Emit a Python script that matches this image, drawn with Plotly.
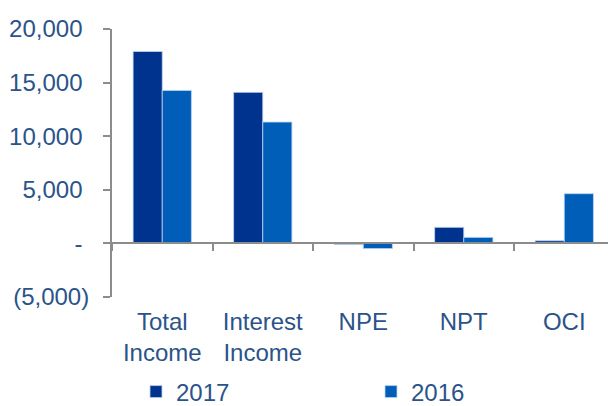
import plotly.graph_objects as go

categories = ["Total<br>Income", "Interest<br>Income", "NPE", "NPT", "OCI"]
values_2017 = [17900, 14090, -100, 1500, 250]
values_2016 = [14270, 11320, -480, 560, 4640]

y_tickvals = [-5000, 0, 5000, 10000, 15000, 20000]
y_ticktext = ["(5,000)", "-\u00a0", "5,000\u00a0", "10,000\u00a0", "15,000\u00a0", "20,000\u00a0"]

text_color = "#2B5389"
axis_color = "#8C8C8C"
font_family = "Liberation Sans, Arial, sans-serif"

# plot area spans the full paper height below the top margin;
# the value axis occupies the upper part, leaving room for labels and legend
y_bottom = 109 / 377
zero_pos = y_bottom + (0 - (-5000)) / 25000 * (1 - y_bottom)

fig = go.Figure()
fig.add_trace(go.Bar(
    name="2017", x=categories, y=values_2017,
    marker=dict(color="#00338D", line=dict(color="rgba(190,210,240,0.8)", width=1)),
))
fig.add_trace(go.Bar(
    name="2016", x=categories, y=values_2016,
    marker=dict(color="#005EB8", line=dict(color="rgba(190,210,240,0.8)", width=1)),
))

fig.update_layout(
    width=608, height=406,
    margin=dict(l=112, r=0, t=29, b=0, autoexpand=False),
    paper_bgcolor="white", plot_bgcolor="white",
    barmode="group", bargap=0.42, bargroupgap=0,
    font=dict(family=font_family, size=24, color=text_color),
    showlegend=True,
    legend=dict(
        orientation="h", xref="container", yref="container",
        x=136 / 608, y=14 / 406, xanchor="left", yanchor="middle",
        entrywidth=190, entrywidthmode="pixels",
        font=dict(size=24, color=text_color),
        traceorder="normal", bgcolor="rgba(0,0,0,0)",
    ),
    xaxis=dict(
        type="category", range=[-0.5, 4.435],
        anchor="free", position=zero_pos,
        showline=True, linecolor=axis_color, linewidth=2,
        ticks="outside", tickson="boundaries", ticklen=7, tickwidth=2, tickcolor=axis_color,
        ticklabelstandoff=57,
        showgrid=False, zeroline=False, automargin=False,
        tickfont=dict(size=24, color=text_color),
    ),
    yaxis=dict(
        domain=[y_bottom, 1],
        range=[-5000, 20000], tickvals=y_tickvals, ticktext=y_ticktext,
        showline=True, linecolor=axis_color, linewidth=2,
        ticks="outside", ticklen=7, tickwidth=2, tickcolor=axis_color,
        ticklabelstandoff=9,
        showgrid=False, zeroline=False, automargin=False,
        tickfont=dict(size=24, color=text_color),
    ),
)

fig.write_html("out.html")
